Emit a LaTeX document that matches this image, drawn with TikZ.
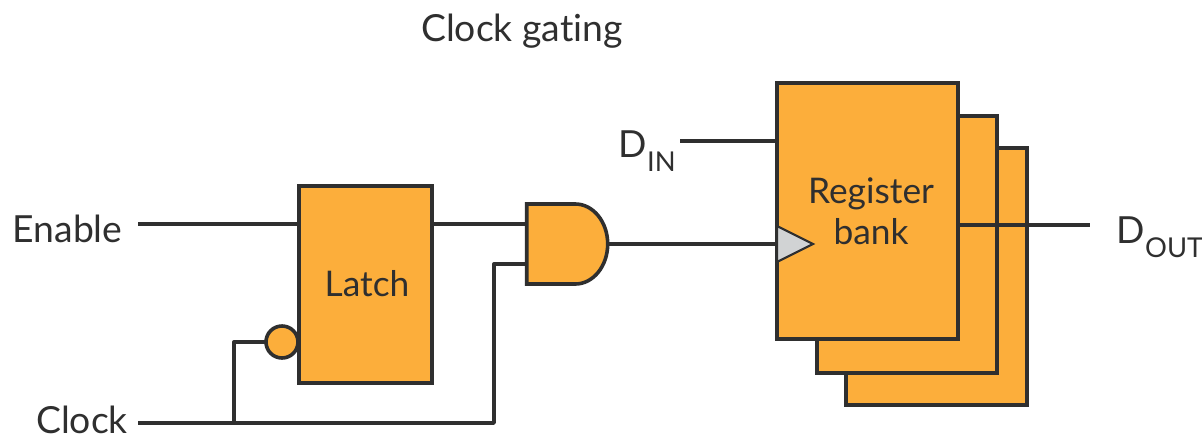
\documentclass[tikz,border=0pt]{standalone}
\usepackage{fontspec}
\setmainfont[Ligatures=NoCommon]{Lato}
\usepackage{tikz}
\usetikzlibrary{calc,shapes.geometric,shapes.gates.logic.US,positioning}
\definecolor{blockorange}{HTML}{FCAE3B}
\definecolor{wiredark}{HTML}{2F2F2F}
\definecolor{clockgray}{HTML}{D1D3D4}
\newcommand{\subtext}[1]{\raisebox{-10.5pt}{\fontsize{20.5}{24}\selectfont #1}}

\begin{document}
\begin{tikzpicture}[x=0.75pt, y=-0.75pt, line width=2.7pt, draw=wiredark, text=wiredark,
    block/.style={rectangle, draw=wiredark, fill=blockorange, outer sep=0pt, inner sep=0pt},
    wire/.style={draw=wiredark, line width=2.5pt, line join=round},
    label/.style={inner sep=0pt, font=\fontsize{28}{32}\selectfont},
    blocktext/.style={inner sep=0pt, align=center, font=\fontsize{26.5}{31}\selectfont}]
        \useasboundingbox (0,0) rectangle (1202,440);
        \node[label] (title) at (522,31) {Clock gating};
        \node[label] (enable) at (67.5,229) {Enable};
        \node[label] (clock) at (82,420) {Clock};
        \node[label, anchor=base west] (din) at (617,157) {D\subtext{IN}};
        \node[label, anchor=base west] (dout) at (1115,243) {D\subtext{OUT}};
        \coordinate (enablestart) at (138,224);
        \coordinate (clockstart) at (138,423);
        \coordinate (dinstart) at (680,141);
        \coordinate (doutend) at (1090,225);
        \coordinate (clockbranch) at (234,423);
        \coordinate (clockturn) at (494,423);
        \coordinate (andlower) at (526,264);

        % stack of register blocks, rear one first
        \node[block, minimum width=135.75pt, minimum height=192.75pt] (regc) at (936.5,276.5) {};
        \node[block, minimum width=135pt, minimum height=192.75pt] (regb) at (907,244.5) {};
        \node[block, minimum width=135.75pt, minimum height=192pt] (rega) at (867.5,211) {};
        \node[blocktext] (regtext) at (871,211) {Register\\bank};

        \node[block, minimum width=99.75pt, minimum height=147.75pt] (latch) at (365.5,284.5) {};
        \node[blocktext] (latchtext) at (367,284) {Latch};
        \node[circle, draw=wiredark, fill=blockorange, minimum size=24pt, inner sep=0pt, outer sep=0pt] (bubble) at (282,342) {};

        \node[and gate US, draw=wiredark, fill=blockorange, logic gate inputs=nn, logic gate input sep=20pt,
          minimum width=62pt, minimum height=60pt, inner sep=0pt, outer sep=0pt, xscale=0.81, transform shape] (andg) at (564.5,244) {};

        \node[isosceles triangle, isosceles triangle apex angle=53, draw=wiredark, fill=clockgray, line width=1.6pt,
          minimum height=27pt, inner sep=0pt, outer sep=0pt, anchor=west] (clk) at (777,244) {};

        \draw[wire] (enablestart) -- (enablestart -| latch.west);
        \draw[wire] (enablestart -| latch.east) -- (enablestart -| andg.west);
        \draw[wire] (clockstart) -- (clockturn) |- (andlower);
        \draw[wire] (clockbranch) |- (bubble.west);
        \draw[wire] (andg.east) -- (clk.west);
        \draw[wire] (dinstart) -- (dinstart -| rega.west);
        \draw[wire] (doutend -| rega.east) -- (doutend);
\end{tikzpicture}
\end{document}
